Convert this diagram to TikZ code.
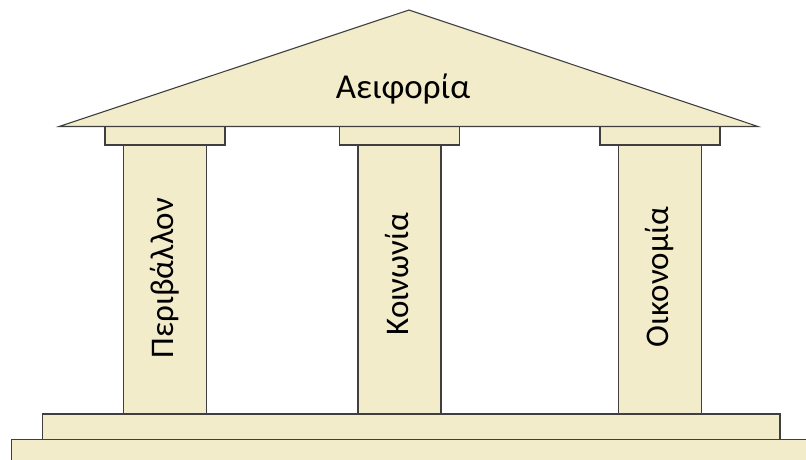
\documentclass[tikz,border=0pt]{standalone}
\usepackage{fontspec}
\setmainfont{Carlito}
\definecolor{stone}{HTML}{F2ECCA}
\definecolor{edge}{HTML}{3F3F3F}
\tikzset{
    block/.style={draw=edge, fill=stone, line width=1.1pt},
    pillar text/.style={font=\fontsize{33}{40}\selectfont, text=black, inner sep=0pt, anchor=base}
}
\begin{document}
\begin{tikzpicture}[x=1pt,y=-1pt]
    \clip (0,0) rectangle (806,459);
    % Steps
    \draw[block] (11.5,439.5) rectangle (820,470);
    \draw[block] (42.5,414) rectangle (780,439.5);
    % Columns and capitals
    \foreach \x/\y/\n/\t in {123.5/278/env/Περιβάλλον, 358/274/soc/Κοινωνία, 618.5/277/eco/Οικονομία} {
        \draw[block] (\x,145) rectangle ++(83,269);
        \draw[block] (\x-18.5,126.5) rectangle ++(120,18.5);
        \node[pillar text, rotate=90] (\n) at (\x+50,\y) {\t};
    }
    % Roof
    \draw[block] (59,126.5) -- (409,10) -- (758,126.5) -- cycle;
    \node[pillar text, font=\fontsize{35}{42}\selectfont] (roof) at (403,98) {Αειφορία};
\end{tikzpicture}
\end{document}
